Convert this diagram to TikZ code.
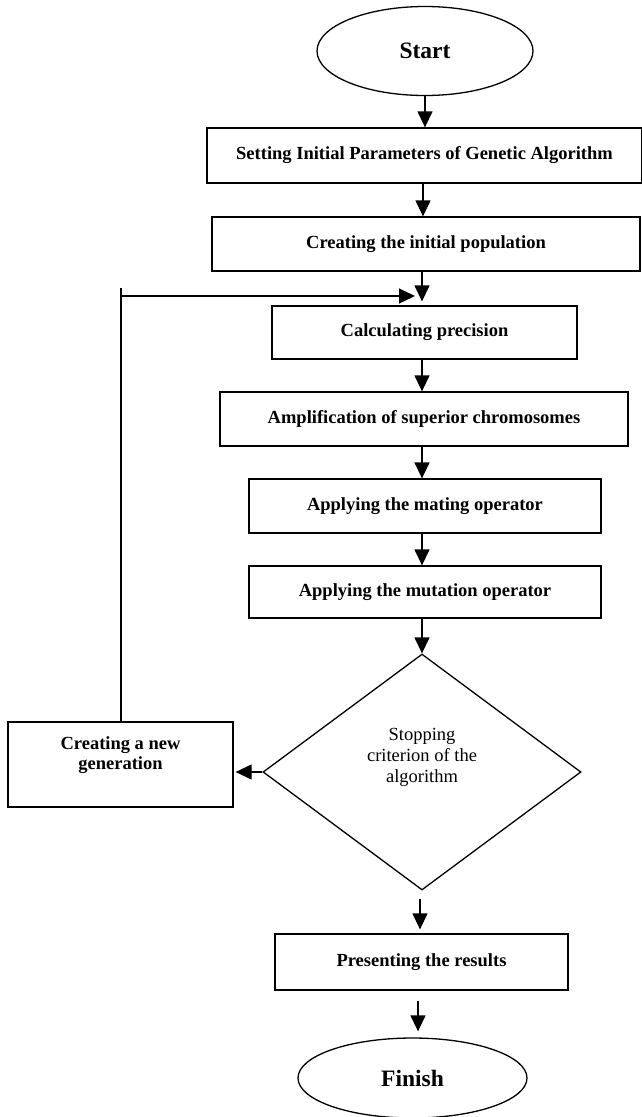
\documentclass[tikz,border=0pt]{standalone}
\usepackage{fontspec}
\setmainfont{Liberation Serif}
\usetikzlibrary{shapes.geometric,arrows.meta}
\tikzset{
  lw/.style={line width=1.3pt},
  procbox/.style={draw, lw, rectangle, inner sep=0pt, font=\fontsize{18.5}{21}\selectfont\bfseries},
  term/.style={draw, lw, ellipse, inner sep=0pt, font=\fontsize{23.5}{26}\selectfont\bfseries},
  decide/.style={draw, lw, diamond, inner sep=0pt},
  lbl/.style={align=center, inner sep=0pt},
  flow/.style={lw, -{Triangle[length=16pt,width=15pt]}},
  plain/.style={lw}
}
\begin{document}
\begin{tikzpicture}[x=1pt,y=-1pt]
\useasboundingbox (0,0) rectangle (642,1117);
\node[term, minimum width=216pt, minimum height=89pt] (start) at (425,51) {Start};
\node[procbox, minimum width=435pt, minimum height=55pt] (b1) at (424.5,155.5) {Setting Initial Parameters of Genetic Algorithm};
\node[procbox, minimum width=428pt, minimum height=54pt] (b2) at (426,244) {Creating the initial population};
\node[procbox, minimum width=305pt, minimum height=53pt] (b3) at (424.5,332.5) {Calculating precision};
\node[procbox, minimum width=408pt, minimum height=54pt] (b4) at (424,419) {Amplification of superior chromosomes};
\node[procbox, minimum width=352pt, minimum height=54pt] (b5) at (425,506) {Applying the mating operator};
\node[procbox, minimum width=352pt, minimum height=52pt] (b6) at (425,592) {Applying the mutation operator};
\node[decide, minimum width=318pt, minimum height=236pt] (dec) at (422,772) {};
\node[lbl, font=\fontsize{18.5}{21}\selectfont] (dectext) at (422,757) {Stopping\\criterion of the\\algorithm};
\node[procbox, minimum width=225pt, minimum height=85pt] (ng) at (120.5,764.5) {};
\node[lbl, font=\fontsize{18.5}{20}\selectfont\bfseries] (ngtext) at (120.5,755) {Creating a new\\generation};
\node[procbox, minimum width=293pt, minimum height=56pt] (b7) at (421.5,962) {Presenting the results};
\node[term, minimum width=229pt, minimum height=80pt] (fin) at (412.5,1078) {Finish};

\coordinate (fbTop) at (121,288);
\coordinate (fbCorner) at (121,296);
\coordinate (fbEnd) at (415,296);

\draw[flow] (start.south) -- (start.south |- b1.north);
\draw[flow] ([xshift=-1.5pt]b1.south) -- ([xshift=-1.5pt]b1.south |- b2.north);
\draw[flow, shorten >=4pt] ([xshift=-4pt]b2.south) -- ([xshift=-4pt]b2.south |- b3.north);
\draw[flow] ([xshift=-2.5pt]b3.south) -- ([xshift=-2.5pt]b3.south |- b4.north);
\draw[flow] ([xshift=-2pt]b4.south) -- ([xshift=-2pt]b4.south |- b5.north);
\draw[flow] ([xshift=-3pt]b5.south) -- ([xshift=-3pt]b5.south |- b6.north);
\draw[flow] (dec.north |- b6.south) -- (dec.north);
\draw[flow, shorten <=8pt, shorten >=4pt] ([xshift=-2pt]dec.south) -- ([xshift=-2pt]dec.south |- b7.north);
\draw[flow, shorten <=10pt, shorten >=6pt] ([xshift=-3.5pt]b7.south) -- ([xshift=-3.5pt]b7.south |- fin.north);
\draw[flow, shorten >=2pt] (dec.west) -- (dec.west -| ng.east);
\draw[plain] ([xshift=0.5pt]ng.north) -- (fbTop);
\draw[flow] (fbCorner) -- (fbEnd);
\end{tikzpicture}
\end{document}
